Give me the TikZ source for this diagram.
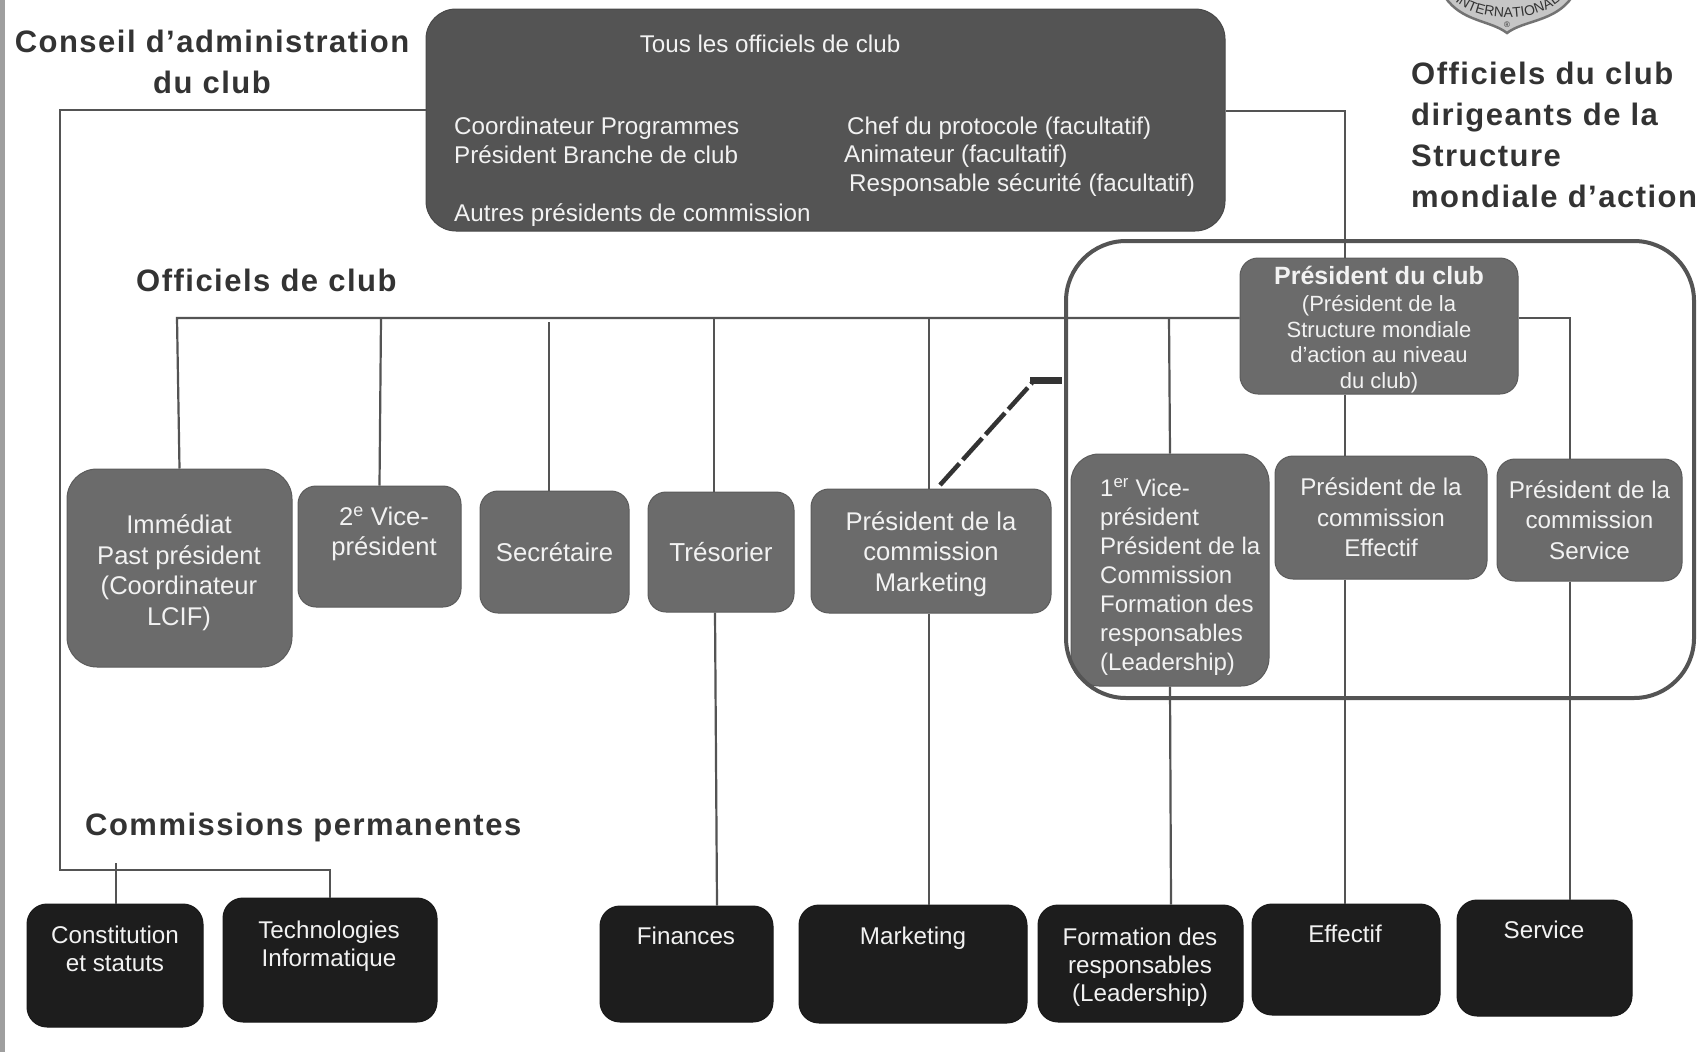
\documentclass[tikz,border=0pt]{standalone}
\usepackage{fontspec}
\setmainfont{Liberation Sans}
\usetikzlibrary{decorations.text}
\definecolor{ink}{gray}{0.2}
\definecolor{lineC}{gray}{0.33}
\definecolor{midbox}{gray}{0.42}
\definecolor{topbox}{gray}{0.33}
\definecolor{blackbox}{gray}{0.115}
\definecolor{soft}{gray}{0.95}
\tikzset{
 x=1pt,y=-1pt,
 box/.style={draw=#1!85!black,fill=#1,line width=1pt,inner sep=0pt,align=center,text=soft,
   font=\fontsize{25}{30.5}\selectfont},
 midb/.style={box=midbox,rounded corners=18pt},
 topb/.style={box=topbox,rounded corners=30pt},
 blkb/.style={box=blackbox,rounded corners=20pt},
 txt/.style={text=soft,inner sep=0pt,align=center,font=\fontsize{25.6}{30.5}\selectfont},
 txtsm/.style={text=soft,inner sep=0pt,anchor=west,font=\fontsize{24.2}{28}\selectfont},
 head/.style={text=ink,inner sep=0pt,anchor=west,align=left,font=\fontsize{31}{41}\bfseries\selectfont\addfontfeature{LetterSpace=4.8}},
 conn/.style={draw=lineC,line width=2.2pt},
}
\newcommand{\bx}[6]{\node[#1,minimum width=#4-#3,minimum height=#6-#5] (#2) at ({(#3+#4)/2},{(#5+#6)/2})}
\begin{document}
\begin{tikzpicture}
\useasboundingbox (0,0) rectangle (1704,1052);
\fill[white] (0,0) rectangle (1704,1052);
\fill[gray!75] (0,0) rectangle (5,1052);

% logo fragment
\path[draw=gray!90!black,fill=gray!45,line width=2.5pt] (1445,-3) .. controls (1462,22) and (1490,20) .. (1507,33) .. controls (1524,20) and (1555,22) .. (1572,-3) -- cycle;
\path[decorate,decoration={text along path,text align=center,text={|\fontsize{14}{14}\selectfont\color{ink}|INTERNATIONAL}}] (1452,-2) .. controls (1475,24) and (1540,24) .. (1563,-2);
\node[text=ink,inner sep=0pt,font=\fontsize{8}{8}\selectfont] (logoR) at (1507,25) {®};

% boxes
\bx{topb}{top}{426}{1225}{9}{231}{};
\bx{midb,rounded corners=30pt}{immed}{67}{292}{469}{667}{};
\bx{midb}{vp2}{298}{461}{486}{607}{};
\bx{midb,font=\fontsize{25.7}{30}\selectfont}{secr}{480}{629}{491}{613}{Secrétaire};
\bx{midb,font=\fontsize{26}{30}\selectfont}{treso}{648}{794}{492}{612}{Trésorier};
\bx{midb}{markp}{811}{1051}{489}{613}{};
\bx{midb,rounded corners=28pt}{vp1}{1071}{1269}{454}{686}{};
\bx{midb,font=\fontsize{24.2}{30.5}\selectfont}{effp}{1275}{1487}{456}{579}{Président de la\\commission\\Effectif};
\bx{midb,font=\fontsize{24.2}{30.5}\selectfont}{servp}{1497}{1682}{459}{581}{Président de la\\commission\\Service};
\bx{midb}{pres}{1240}{1518}{258}{394}{};
\bx{blkb}{bconst}{27}{203}{904}{1027}{};
\bx{blkb}{btech}{223}{437}{898}{1022}{};
\bx{blkb}{bfin}{600}{773}{906}{1022}{};
\bx{blkb}{bmark}{799}{1027}{905}{1023}{};
\bx{blkb}{bform}{1038}{1243}{905}{1022}{};
\bx{blkb}{beff}{1252}{1440}{904}{1015}{};
\bx{blkb}{bserv}{1457}{1632}{900}{1016}{};

% action structure outline
\node[draw=lineC,line width=4pt,rounded corners=60pt,minimum width=628pt,minimum height=457pt,inner sep=0pt] (struct) at (1380,469.5) {};

% junction points
\coordinate (jL) at (60,110);
\coordinate (jB) at (60,870);
\coordinate (jT) at (330,870);
\coordinate (jC) at (116,863);
\coordinate (jR) at (1345,111);
\coordinate (oL) at (177,318);
\coordinate (oR) at (1570,318);
\coordinate (o2) at (381,318);
\coordinate (o3) at (549,322);
\coordinate (o4) at (714,318);
\coordinate (o5) at (929,318);
\coordinate (o6) at (1169,318);
\coordinate (dA) at (1032,383);
\coordinate (dB) at (1062,380);
\coordinate (dC) at (1030,380);
\coordinate (dS) at (940,485);

% connectors
\draw[conn] ([yshift=10pt]top.west) -- (jL) -- (jB) -- (jT) -- (btech.north);
\draw[conn] (jC) -- ([xshift=1pt]bconst.north);
\draw[conn] ([yshift=9pt]top.east) -- (jR) -- ([xshift=-34pt]pres.north);
\draw[conn] ([yshift=8pt]pres.west) -- (oL) -- (immed.north);
\draw[conn] ([yshift=8pt]pres.east) -- (oR) -- ([xshift=-19.5pt]servp.north);
\draw[conn] (o2) -- (vp2.north);
\draw[conn] (o3) -- ([xshift=-5.5pt]secr.north);
\draw[conn] (o4) -- ([xshift=-7pt]treso.north);
\draw[conn] (o5) -- ([xshift=-2pt]markp.north);
\draw[conn] (o6) -- (vp1.north);
\draw[conn] ([xshift=-34pt]pres.south) -- ([xshift=-36pt]effp.north);
\draw[conn] ([xshift=-36pt]effp.south) -- ([xshift=-1pt]beff.north);
\draw[conn] ([xshift=-19.5pt]servp.south) -- ([xshift=25.5pt]bserv.north);
\draw[conn] ([xshift=-6pt]treso.south) -- ([xshift=30.5pt]bfin.north);
\draw[conn] ([xshift=-2pt]markp.south) -- ([xshift=16pt]bmark.north);
\draw[conn] (vp1.south) -- ([xshift=30.5pt]bform.north);
\draw[draw=ink,line width=4.5pt,dash pattern=on 29pt off 5pt] (dS) -- (dA);
\draw[draw=ink,line width=7pt] (dC) -- (dB);

% headings
\node[head,align=center,anchor=center] (hconseil) at (212,62) {Conseil d’administration\\du club};
\node[head] (hoff) at (136,280) {Officiels de club};
\node[head] (hcomm) at (85,827) {Commissions permanentes};
\node[head,anchor=north west] (hdir) at (1411,62) {Officiels du club\\dirigeants de la\\Structure\\mondiale d’action};

% top box text
\node[txtsm,anchor=center] (t0) at (770,44) {Tous les officiels de club};
\node[txtsm] (t1) at (454,128) {Coordinateur Programmes};
\node[txtsm] (t2) at (454,155) {Président Branche de club};
\node[txtsm] (t3) at (454,215) {Autres présidents de commission};
\node[txtsm] (t4) at (847,128) {Chef du protocole (facultatif)};
\node[txtsm] (t5) at (844,156) {Animateur (facultatif)};
\node[txtsm] (t6) at (849,185) {Responsable sécurité (facultatif)};

% off-centre box texts
\node[txt] (limmed) at (179,572.5) {Immédiat\\Past président\\(Coordinateur\\LCIF)};
\node[txt] (lmarkp) at (931,554) {Président de la\\commission\\Marketing};
\node[txt] (lvp2) at (384,534) {2\textsuperscript{e} Vice-\\président};
\node[txt,align=left,anchor=north west,font=\fontsize{24}{29}\selectfont] (lvp1) at (1100,478) {1\textsuperscript{er} Vice-\\président\\Président de la\\Commission\\Formation des\\responsables\\(Leadership)};
\node[txt,font=\fontsize{25}{25}\bfseries\selectfont] (lpres) at (1379,275) {Président du club};
\node[txt,font=\fontsize{22}{25.5}\selectfont] (lpres2) at (1379,344) {(Président de la\\Structure mondiale\\d’action au niveau\\du club)};
\node[txtsm,anchor=center,align=center] (lc) at (115,949) {Constitution\\et statuts};
\node[txtsm,anchor=center,align=center] (lt) at (329,946) {Technologies\\Informatique};
\node[txtsm,anchor=center] (lf) at (686,936) {Finances};
\node[txtsm,anchor=center] (lm) at (913,938) {Marketing};
\node[txtsm,anchor=center,align=center] (lfo) at (1140,967) {Formation des\\responsables\\(Leadership)};
\node[txtsm,anchor=center] (le) at (1345,934) {Effectif};
\node[txtsm,anchor=center] (ls) at (1544,930) {Service};
\end{tikzpicture}
\end{document}
